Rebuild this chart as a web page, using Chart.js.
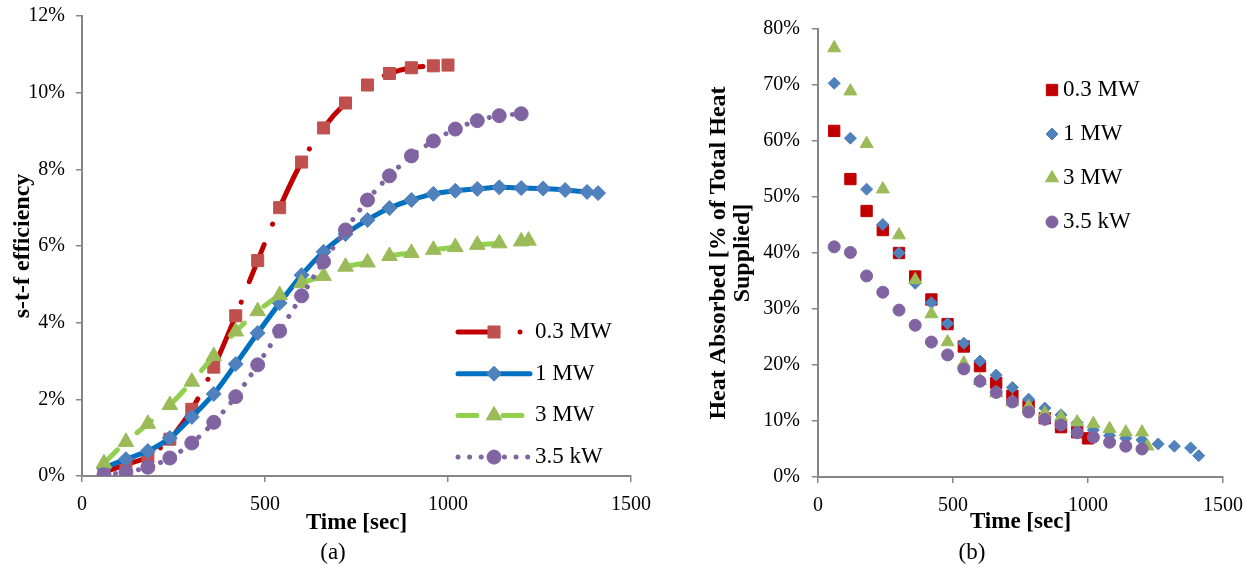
<!DOCTYPE html>
<html lang="en">
<head>
<meta charset="UTF-8" />
<title>s-t-f efficiency / Heat absorbed</title>
<script src="https://cdn.jsdelivr.net/npm/chart.js"></script>
<style>
  body { margin: 0; background: #fff; width: 1255px; height: 569px; position: relative; overflow: hidden;
         font-family: 'Times New Roman', 'Liberation Serif', serif; }
  .panel { position: absolute; top: 0; }
  .caption { position: absolute; top: 538px; width: 100px; font-size: 23px; line-height: 28px; text-align: center; color: #000; }
</style>
</head>
<body>
<canvas id="graficoEficiencia" class="panel" width="666" height="569" style="left:0"></canvas>
<canvas id="graficoCalor" class="panel" width="565" height="569" style="left:690px"></canvas>
<div class="caption" style="left:283px">(a)</div>
<div class="caption" style="left:922px">(b)</div>

<script>
// series names
const nombres = ['0.3 MW', '1 MW', '3 MW', '3.5 kW'];

// time stamps [sec] of each series
const t03 = [60, 120, 180, 240, 300, 360, 420, 480, 540, 600, 660, 720, 780, 840, 900, 960, 1000];
const t1  = [60, 120, 180, 240, 300, 360, 420, 480, 540, 600, 660, 720, 780, 840, 900, 960, 1020, 1080, 1140, 1200, 1260, 1320, 1380, 1410];
const t3  = [60, 120, 180, 240, 300, 360, 420, 480, 540, 600, 660, 720, 780, 840, 900, 960, 1020, 1080, 1140, 1200, 1220];
const t35 = [60, 120, 180, 240, 300, 360, 420, 480, 540, 600, 660, 720, 780, 840, 900, 960, 1020, 1080, 1140, 1200];

// (a) s-t-f efficiency [%]
const eff03 = [0.1, 0.3, 0.5, 0.96, 1.74, 2.84, 4.18, 5.62, 7.0, 8.19, 9.08, 9.73, 10.2, 10.5, 10.65, 10.7, 10.72];
const eff1  = [0.21, 0.44, 0.65, 0.99, 1.54, 2.14, 2.92, 3.73, 4.51, 5.24, 5.85, 6.31, 6.68, 6.99, 7.2, 7.36, 7.44, 7.49, 7.53, 7.51, 7.5, 7.46, 7.41, 7.38];
const eff3  = [0.33, 0.89, 1.36, 1.85, 2.46, 3.13, 3.77, 4.3, 4.72, 5.03, 5.22, 5.46, 5.57, 5.74, 5.82, 5.9, 5.97, 6.03, 6.07, 6.12, 6.14];
const eff35 = [0.03, 0.1, 0.23, 0.47, 0.86, 1.4, 2.07, 2.9, 3.78, 4.7, 5.59, 6.42, 7.2, 7.83, 8.35, 8.74, 9.05, 9.27, 9.4, 9.45];

// (b) heat absorbed [% of total heat supplied]
const heat03 = [61.8, 53.2, 47.5, 44.1, 40.0, 35.8, 31.7, 27.3, 23.3, 19.8, 16.8, 14.5, 12.7, 10.5, 8.9, 8.0, 6.9];
const heat1  = [70.3, 60.5, 51.4, 45.1, 40.0, 34.6, 31.1, 27.4, 23.9, 20.7, 18.2, 16.0, 13.9, 12.3, 11.1, 9.7, 8.4, 7.4, 6.9, 6.6, 5.9, 5.5, 5.2, 3.8];
const heat3  = [76.6, 68.9, 59.5, 51.4, 43.2, 35.2, 29.1, 24.1, 20.3, 17.2, 15.0, 13.4, 12.6, 11.4, 10.7, 9.8, 9.5, 8.6, 8.0, 8.0, 5.5];
const heat35 = [41.1, 40.1, 35.9, 33.0, 29.8, 27.1, 24.1, 21.8, 19.3, 17.1, 15.1, 13.4, 11.6, 10.3, 9.3, 7.9, 7.1, 6.2, 5.5, 5.0];

// axis ticks
const xTicks = [0, 500, 1000, 1500];
const yTicksA = [0, 2, 4, 6, 8, 10, 12];
const yTicksB = [0, 10, 20, 30, 40, 50, 60, 70, 80];

const FUENTE = "'Times New Roman', 'Liberation Serif', serif";
const GRIS = '#868686';
Chart.defaults.font.family = FUENTE;
Chart.defaults.color = '#000';

const puntos = (xs, ys) => xs.map((x, i) => ({ x: x, y: ys[i] }));

// legend drawn like the Excel one (line sample + marker + text)
const leyendaExcel = {
  id: 'leyendaExcel',
  afterDraw(chart, args, o) {
    const ctx = chart.ctx;
    ctx.save();
    chart.data.datasets.forEach((ds, i) => {
      const y = o.y + i * o.gap;
      if (o.largo) {
        ctx.save();
        ctx.strokeStyle = ds.borderColor;
        ctx.lineWidth = ds.borderWidth;
        ctx.lineCap = ds.borderCapStyle || 'butt';
        ctx.setLineDash(ds.borderDash || []);
        ctx.beginPath();
        ctx.moveTo(o.x, y);
        ctx.lineTo(o.x + o.largo, y);
        ctx.stroke();
        ctx.restore();
      }
      ctx.fillStyle = ds.pointBackgroundColor;
      ctx.strokeStyle = ds.pointBorderColor;
      ctx.lineWidth = ds.pointBorderWidth;
      ctx.setLineDash([]);
      Chart.helpers.drawPoint(ctx, { pointStyle: ds.pointStyle, radius: ds.pointRadius, rotation: 0, borderWidth: ds.pointBorderWidth }, o.marcaX, y);
      ctx.fillStyle = '#000';
      ctx.font = '23px ' + FUENTE;
      ctx.textBaseline = 'middle';
      ctx.textAlign = 'left';
      ctx.fillText(ds.label, o.textoX, y);
    });
    ctx.restore();
  }
};

function escalas(c) {
  return {
    x: {
      type: 'linear', min: 0, max: 1500,
      afterBuildTicks: s => { s.ticks = xTicks.map(v => ({ value: v })); },
      ticks: { font: { size: 20 }, padding: 11, maxRotation: 0, callback: v => String(v) },
      grid: { drawOnChartArea: false, tickLength: 6, color: GRIS, lineWidth: 1.5 },
      border: { color: GRIS, width: 2 },
      title: { display: true, text: 'Time [sec]', font: { size: 23, weight: 'bold' }, padding: { top: 0, bottom: 2 } },
      afterFit: s => { s.height = c.xAlto; }
    },
    y: {
      type: 'linear', min: 0, max: c.yTicks[c.yTicks.length - 1],
      afterBuildTicks: s => { s.ticks = c.yTicks.map(v => ({ value: v })); },
      ticks: { font: { size: 20 }, padding: c.yPad, callback: v => v + '%' },
      grid: { drawOnChartArea: false, tickLength: 6, color: GRIS, lineWidth: 1.5 },
      border: { color: GRIS, width: 2 },
      title: { display: true, text: c.yTitulo, font: { size: 24, weight: 'bold', lineHeight: c.yLinea }, padding: { top: c.yTituloPad, bottom: 0 } },
      // fixed width, and no extra room for the label overhang: the layout padding already covers it
      afterFit: s => { s.width = c.yAncho; s.paddingTop = 0; s.paddingBottom = 0; }
    }
  };
}

// (a) lines with markers
new Chart(document.getElementById('graficoEficiencia'), {
  type: 'scatter',
  data: {
    datasets: [
      { label: nombres[0], data: puntos(t03, eff03), order: 4, showLine: true, tension: 0.3,
        borderColor: '#C00000', borderWidth: 5, borderDash: [40, 22, 0.01, 22], borderCapStyle: 'round',
        pointStyle: 'rect', pointRadius: 8.5, pointBackgroundColor: '#C0504D', pointBorderColor: '#C0504D', pointBorderWidth: 1 },
      { label: nombres[1], data: puntos(t1, eff1), order: 3, showLine: true, tension: 0.3,
        borderColor: '#0070C0', borderWidth: 5, borderDash: [], borderCapStyle: 'round',
        pointStyle: 'rectRot', pointRadius: 7.5, pointBackgroundColor: '#4F81BD', pointBorderColor: '#4F81BD', pointBorderWidth: 1 },
      { label: nombres[2], data: puntos(t3, eff3), order: 2, showLine: true, tension: 0.3,
        borderColor: '#92D050', borderWidth: 5, borderDash: [19, 26], borderCapStyle: 'round',
        pointStyle: 'triangle', pointRadius: 9, pointBackgroundColor: '#9BBB59', pointBorderColor: '#9BBB59', pointBorderWidth: 1 },
      { label: nombres[3], data: puntos(t35, eff35), order: 1, showLine: true, tension: 0.3,
        borderColor: '#8064A2', borderWidth: 5, borderDash: [0.01, 11.6], borderCapStyle: 'round',
        pointStyle: 'circle', pointRadius: 7, pointBackgroundColor: '#8064A2', pointBorderColor: '#8064A2', pointBorderWidth: 1 }
    ]
  },
  options: {
    responsive: false,
    animation: false,
    events: [],
    layout: { padding: { left: 0, right: 35, top: 16, bottom: 30 } },
    plugins: {
      legend: { display: false },
      tooltip: { enabled: false },
      leyendaExcel: { x: 458, y: 332, gap: 41.7, largo: 72, marcaX: 494, textoX: 535 }
    },
    scales: escalas({ yTicks: yTicksA, yPad: 11, yAncho: 82, xAlto: 63,
                      yTitulo: 's-t-f efficiency', yLinea: 1.2, yTituloPad: 8 })
  },
  plugins: [leyendaExcel]
});

// (b) markers only
new Chart(document.getElementById('graficoCalor'), {
  type: 'scatter',
  data: {
    datasets: [
      { label: nombres[0], data: puntos(t03, heat03), order: 4, showLine: false,
        pointStyle: 'rect', pointRadius: 8, pointBackgroundColor: '#C00000', pointBorderColor: '#C00000', pointBorderWidth: 1 },
      { label: nombres[1], data: puntos(t1, heat1), order: 3, showLine: false,
        pointStyle: 'rectRot', pointRadius: 6, pointBackgroundColor: '#4F81BD', pointBorderColor: '#4F81BD', pointBorderWidth: 1 },
      { label: nombres[2], data: puntos(t3, heat3), order: 2, showLine: false,
        pointStyle: 'triangle', pointRadius: 7.5, pointBackgroundColor: '#9BBB59', pointBorderColor: '#9BBB59', pointBorderWidth: 1 },
      { label: nombres[3], data: puntos(t35, heat35), order: 1, showLine: false,
        pointStyle: 'circle', pointRadius: 6, pointBackgroundColor: '#8064A2', pointBorderColor: '#8064A2', pointBorderWidth: 1 }
    ]
  },
  options: {
    responsive: false,
    animation: false,
    events: [],
    layout: { padding: { left: 0, right: 32, top: 29, bottom: 31 } },
    plugins: {
      legend: { display: false },
      tooltip: { enabled: false },
      leyendaExcel: { x: 0, y: 90, gap: 44, largo: 0, marcaX: 362, textoX: 373 }
    },
    scales: escalas({ yTicks: yTicksB, yPad: 12, yAncho: 128, xAlto: 61,
                      yTitulo: ['Heat Absorbed [% of Total Heat', 'Supplied]'], yLinea: 1.0, yTituloPad: 17 })
  },
  plugins: [leyendaExcel]
});
</script>
</body>
</html>
